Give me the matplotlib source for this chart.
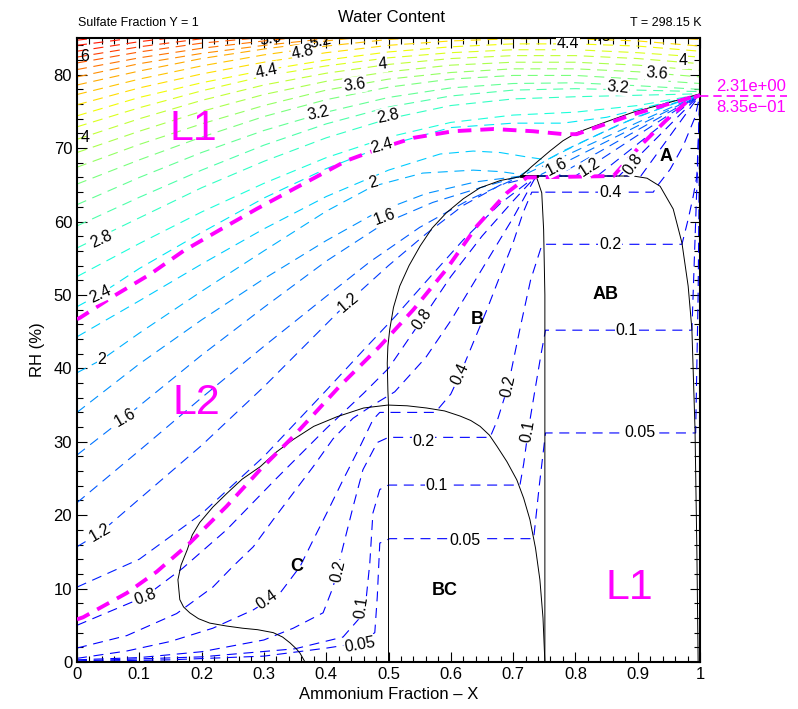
import numpy as np
import matplotlib
matplotlib.use("Agg")
import matplotlib.pyplot as plt
from matplotlib.ticker import MultipleLocator, FuncFormatter

plt.rcParams['font.family'] = ['Liberation Sans', 'DejaVu Sans']

# *------------- phase boundaries (X = ammonium fraction, RH %) -------------*
bndA_x = [0.713, 0.73, 0.759, 0.78, 0.802, 0.85, 0.893, 0.95, 1.0]
bndA_y = [66.2, 67.5, 69.6, 71.0, 72.1, 73.6, 74.9, 76.2, 77.4]

bndAB_x = [0.713, 0.893, 0.915, 0.936, 0.957, 0.971, 0.981, 0.987, 0.992, 0.995, 0.997]
bndAB_y = [66.2, 66.2, 65.9, 64.8, 61.7, 57.1, 51.2, 45.3, 31.7, 15.0, 0.0]

bndB_x = [0.711, 0.68, 0.647, 0.62, 0.593, 0.57, 0.551, 0.533, 0.518, 0.508, 0.502,
          0.499, 0.498, 0.499, 0.5, 0.5]
bndB_y = [66.1, 65.6, 64.6, 63.1, 61.2, 59.1, 56.7, 54.0, 51.2, 48.3, 45.3,
          43.0, 40.7, 37.0, 35.0, 0.0]

bndV_x = [0.737, 0.746, 0.749, 0.751, 0.751]
bndV_y = [66.2, 63.9, 58.9, 50.0, 0.0]

bndC_x = [0.366, 0.358, 0.352, 0.342, 0.33, 0.315, 0.29, 0.266, 0.24, 0.213, 0.195,
          0.181, 0.171, 0.165, 0.162, 0.167, 0.177, 0.185, 0.197, 0.218, 0.241,
          0.265, 0.294, 0.32, 0.347, 0.38, 0.417, 0.46, 0.499, 0.53, 0.561, 0.59,
          0.615, 0.632, 0.647, 0.662, 0.674, 0.69, 0.706, 0.717, 0.727, 0.736,
          0.743, 0.748, 0.751]
bndC_y = [0.0, 1.2, 1.8, 2.6, 3.4, 4.0, 4.4, 4.6, 4.9, 5.3, 5.9,
          6.7, 7.5, 8.5, 11.2, 13.2, 15.3, 17.3, 19.0, 21.1, 23.0,
          24.9, 26.6, 28.6, 30.3, 32.1, 33.4, 34.6, 35.0, 34.9, 34.6, 34.2,
          33.5, 32.9, 32.1, 30.9, 29.4, 27.3, 24.8, 22.3, 19.4, 15.5,
          11.2, 6.0, 0.0]

eut_x = [0.713, 0.738]
eut_y = [66.2, 66.2]

# liquid-liquid boundaries (magenta)
magU_x = [0.0, 0.005, 0.058, 0.117, 0.171, 0.23, 0.288, 0.347, 0.433, 0.481, 0.54,
          0.604, 0.668, 0.732, 0.781, 0.802, 0.893, 0.989, 1.0]
magU_y = [46.7, 46.9, 49.8, 52.8, 56.0, 58.9, 61.7, 64.4, 68.3, 69.8, 71.4,
          72.3, 72.6, 72.3, 71.9, 71.9, 74.6, 77.0, 77.2]
magL_x = [0.0, 0.01, 0.08, 0.128, 0.181, 0.24, 0.294, 0.347, 0.422, 0.486, 0.54,
          0.593, 0.642, 0.69, 0.722, 0.861, 0.904, 0.947, 0.984, 1.0]
magL_y = [5.8, 6.1, 9.4, 12.3, 16.2, 21.2, 26.2, 30.7, 37.6, 43.0, 48.0,
          53.5, 59.4, 63.9, 66.0, 66.2, 70.3, 73.9, 76.7, 77.2]

# *------------- water content contours, lower levels -------------*
line_005 = [(0, 0.08), (0.15, 0.3), (0.3, 0.8), (0.401, 1.9), (0.454, 2.6), (0.478, 4.0),
            (0.482, 8.9), (0.486, 16.2), (0.502, 16.8), (0.733, 16.8), (0.742, 24.0),
            (0.752, 31.2), (0.993, 31.2), (0.997, 50.0), (1.0, 77.3)]
line_01 = [(0, 0.15), (0.2, 0.7), (0.35, 1.8), (0.427, 3.4), (0.462, 6.8), (0.47, 13.5),
           (0.475, 20.3), (0.486, 23.5), (0.5, 24.1), (0.711, 24.1), (0.717, 27.0),
           (0.724, 31.4), (0.735, 37.0), (0.745, 42.0), (0.752, 45.2), (0.987, 45.2),
           (0.993, 60.0), (1.0, 77.3)]
line_02 = [(0, 0.3), (0.1, 0.6), (0.2, 1.4), (0.3, 3.0), (0.347, 4.6), (0.395, 6.7),
           (0.411, 10.2), (0.427, 15.7), (0.443, 21.1), (0.459, 26.2), (0.482, 29.9),
           (0.5, 30.6), (0.663, 30.6), (0.675, 33.0), (0.692, 37.6), (0.71, 45.0),
           (0.728, 52.0), (0.745, 56.5), (0.752, 56.9), (0.971, 56.9), (0.981, 60.3),
           (0.989, 63.4), (0.995, 66.2), (1.0, 77.3)]
line_04 = [(0, 0.5), (0.08, 1.5), (0.15, 2.8), (0.218, 4.6), (0.283, 7.1), (0.326, 9.4),
           (0.358, 13.0), (0.379, 16.6), (0.401, 20.3), (0.427, 24.8), (0.454, 29.3),
           (0.475, 33.0), (0.486, 34.0), (0.575, 34.0), (0.6, 36.5), (0.615, 39.2),
           (0.636, 43.5), (0.658, 48.0), (0.679, 52.6), (0.7, 57.1), (0.716, 61.2),
           (0.73, 64.0), (0.752, 64.0), (0.925, 64.0), (0.931, 64.8), (0.952, 67.1),
           (0.973, 70.3), (0.992, 74.2), (1.0, 77.3)]
line_06 = [(0, 1.9), (0.08, 3.6), (0.16, 6.6), (0.218, 10.2), (0.25, 13.0), (0.283, 15.7),
           (0.315, 19.4), (0.347, 23.0), (0.379, 26.6), (0.411, 30.4), (0.443, 33.2),
           (0.475, 35.0), (0.51, 36.8), (0.56, 41.5), (0.6, 46.5), (0.65, 53.5),
           (0.7, 60.5), (0.737, 66.2), (0.905, 66.2), (1.0, 77.3)]
line_08 = [(0, 5.0), (0.109, 8.9), (0.17, 12.8), (0.24, 18.0), (0.32, 25.0), (0.4, 31.8),
           (0.46, 36.6), (0.5, 40.0), (0.554, 46.7), (0.6, 52.5), (0.65, 58.0),
           (0.7, 62.8), (0.737, 66.2), (0.87, 66.2), (1.0, 77.3)]
line_10 = [(0, 10.2), (0.1, 14.0), (0.2, 20.2), (0.3, 28.0), (0.4, 37.0), (0.46, 42.5),
           (0.51, 47.0), (0.56, 51.8), (0.62, 57.5), (0.68, 62.5), (0.737, 66.2),
           (0.835, 66.2), (1.0, 77.3)]
line_12 = [(0, 15.7), (0.037, 17.6), (0.1, 22.2), (0.2, 29.5), (0.3, 37.5), (0.435, 49.0),
           (0.5, 54.0), (0.56, 58.3), (0.62, 62.2), (0.68, 65.0), (0.737, 66.2),
           (0.8, 66.2), (1.0, 77.3)]
line_14 = [(0, 21.7), (0.1, 28.8), (0.2, 36.0), (0.3, 43.0), (0.4, 49.8), (0.47, 54.5),
           (0.55, 59.2), (0.63, 63.0), (0.713, 66.2), (0.77, 66.2), (1.0, 77.3)]
line_16 = [(0, 28.2), (0.077, 33.3), (0.2, 41.8), (0.3, 48.3), (0.4, 54.6), (0.494, 59.8),
           (0.571, 62.6), (0.647, 64.6), (0.713, 66.2), (0.74, 66.2), (1.0, 77.3)]
line_18 = [(0, 34.0), (0.1, 40.6), (0.2, 46.6), (0.3, 52.2), (0.4, 57.4), (0.48, 61.2),
           (0.56, 63.8), (0.64, 65.4), (0.713, 66.2), (0.8, 69.6), (0.9, 73.5), (1.0, 77.3)]
line_20 = [(0, 39.4), (0.04, 41.2), (0.1, 44.8), (0.2, 50.5), (0.3, 56.0), (0.4, 61.4),
           (0.475, 64.8), (0.555, 66.6), (0.636, 67.0), (0.68, 66.8), (0.713, 66.4),
           (0.78, 69.6), (0.87, 73.2), (0.95, 75.9), (1.0, 77.3)]
line_22 = [(0, 44.3), (0.1, 49.2), (0.2, 54.2), (0.3, 59.0), (0.4, 63.4), (0.5, 67.0),
           (0.583, 69.2), (0.636, 69.6), (0.679, 69.4), (0.722, 68.8), (0.754, 68.4),
           (0.82, 71.2), (0.9, 74.3), (1.0, 77.3)]
line_24 = [(0, 48.4), (0.037, 50.1), (0.1, 53.6), (0.2, 58.5), (0.3, 63.2), (0.4, 67.2),
           (0.49, 70.2), (0.6, 72.8), (0.7, 73.4), (0.78, 73.4), (0.85, 74.2),
           (0.93, 75.9), (1.0, 77.3)]
low_levels = [0.05, 0.1, 0.2, 0.4, 0.6, 0.8, 1.0, 1.2, 1.4, 1.6, 1.8, 2.0, 2.2, 2.4]
low_lines = [line_005, line_01, line_02, line_04, line_06, line_08, line_10, line_12,
             line_14, line_16, line_18, line_20, line_22, line_24]

# *------------- water content contours, upper arcs -------------*
arc_x = [0.0, 0.1, 0.2, 0.3, 0.4, 0.5, 0.6, 0.7, 0.8, 0.9, 1.0]
arc_levels = [2.6, 2.8, 3.0, 3.2, 3.4, 3.6, 3.8, 4.0, 4.2, 4.4, 4.6, 4.8,
              5.0, 5.2, 5.4, 5.6, 5.8, 6.0, 6.2, 6.4]
arc_rows = [
    [52.5, 57.0, 61.3, 65.2, 68.7, 71.5, 73.5, 74.5, 74.9, 75.8, 77.3],
    [56.4, 60.5, 64.6, 68.2, 71.4, 74.0, 75.8, 76.7, 77.0, 77.2, 77.4],
    [59.4, 63.3, 67.0, 70.4, 73.3, 75.6, 77.1, 77.9, 78.1, 77.9, 77.7],
    [62.3, 66.0, 69.4, 72.4, 74.9, 76.9, 78.2, 78.8, 78.9, 78.5, 78.0],
    [65.1, 68.4, 71.5, 74.3, 76.6, 78.3, 79.4, 79.9, 79.9, 79.4, 78.8],
    [67.4, 70.5, 73.3, 75.8, 77.9, 79.4, 80.3, 80.8, 80.8, 80.4, 79.7],
    [69.4, 72.3, 75.0, 77.3, 79.1, 80.4, 81.3, 81.7, 81.7, 81.3, 80.6],
    [71.2, 74.0, 76.5, 78.6, 80.2, 81.4, 82.2, 82.6, 82.6, 82.2, 81.5],
    [72.9, 75.5, 77.8, 79.8, 81.2, 82.3, 83.0, 83.4, 83.4, 83.0, 82.4],
    [74.4, 76.9, 78.9, 80.6, 82.0, 83.1, 83.8, 84.2, 84.2, 83.9, 83.2],
    [75.9, 78.2, 80.1, 81.7, 83.0, 84.0, 84.6, 84.9, 84.9, 84.6, 83.9],
    [77.3, 79.4, 81.2, 82.7, 83.9, 84.8, 85.3, 85.5, 85.5, 85.3, 84.8],
    [78.6, 80.5, 82.2, 83.5, 84.6, 85.5, 86.0, 86.2, 86.2, 86.0, 85.5],
    [79.7, 81.5, 82.9, 84.0, 84.9, 85.6, 86.1, 86.4, 86.4, 86.2, 85.8],
    [80.7, 82.3, 83.6, 84.6, 85.5, 86.2, 86.7, 87.0, 87.0, 86.8, 86.4],
    [81.6, 83.1, 84.3, 85.1, 85.9, 86.6, 87.1, 87.4, 87.4, 87.2, 86.8],
    [82.4, 83.8, 84.9, 85.8, 86.5, 87.0, 87.4, 87.6, 87.6, 87.4, 87.0],
    [83.2, 84.5, 85.5, 86.3, 87.0, 87.5, 87.8, 88.0, 88.0, 87.8, 87.4],
    [84.0, 85.1, 86.0, 86.8, 87.4, 87.9, 88.2, 88.4, 88.4, 88.2, 87.8],
    [84.7, 85.7, 86.5, 87.2, 87.8, 88.3, 88.6, 88.8, 88.8, 88.6, 88.2],
]

# contour labels: x, y, text, rotation
lab_x = [0.040, 0.037, 0.040, 0.077, 0.037, 0.109, 0.013, 0.013,
         0.305, 0.31, 0.363, 0.39, 0.446, 0.387, 0.49, 0.5, 0.49, 0.475, 0.494, 0.435,
         0.788, 0.84, 0.973, 0.931, 0.868,
         0.77, 0.823, 0.892,
         0.554, 0.615, 0.692, 0.724,
         0.856, 0.856, 0.882, 0.904,
         0.556, 0.577, 0.623,
         0.305, 0.419, 0.457, 0.454]
lab_y = [57.6, 50.1, 41.2, 33.3, 17.6, 8.9, 71.5, 82.5,
         80.5, 84.9, 83.1, 84.6, 78.6, 74.8, 81.4, 74.4, 70.3, 65.3, 60.6, 49.0,
         84.2, 85.2, 81.9, 80.1, 78.3,
         67.5, 67.4, 67.8,
         46.7, 39.2, 37.6, 31.4,
         63.9, 56.9, 45.1, 31.2,
         30.1, 24.1, 16.6,
         8.5, 12.3, 7.4, 2.3]
lab_txt = ['2.8', '2.4', '2', '1.6', '1.2', '0.8', '4', '6',
           '4.4', '5.6', '4.8', '5.2', '3.6', '3.2', '4', '2.8', '2.4', '2', '1.6', '1.2',
           '4.4', '4.8', '4', '3.6', '3.2',
           '1.6', '1.2', '0.8',
           '0.8', '0.4', '0.2', '0.1',
           '0.4', '0.2', '0.1', '0.05',
           '0.2', '0.1', '0.05',
           '0.4', '0.2', '0.1', '0.05']
lab_rot = [25, 25, 0, 30, 30, 20, 0, 0,
           12, 10, 12, 12, 8, 12, 5, 12, 15, 15, 20, 40,
           0, 0, 0, -5, -5,
           27, 33, 55,
           55, 65, 78, 80,
           0, 0, 0, 0,
           0, 0, 0,
           35, 78, 82, 10]

def wc_color(level):
    t = 0.125 + (level - 0.8) * 0.144
    return plt.cm.jet(min(max(t, 0.125), 0.89))

fig = plt.figure(figsize=(7.98, 7.09), dpi=100)
ax = fig.add_axes([77 / 798, 1 - 662 / 709, 623 / 798, 624 / 709])

dash = (0, (9, 6))
for lev, pts in zip(low_levels, low_lines):
    xs, ys = zip(*pts)
    ax.plot(xs, ys, ls=dash, lw=0.8, color=wc_color(lev), zorder=2)
for lev, row in zip(arc_levels, arc_rows):
    ax.plot(arc_x, row, ls=dash, lw=0.8, color=wc_color(lev), zorder=2)

# black solid boundaries
for bx, by in [(bndA_x, bndA_y), (bndAB_x, bndAB_y), (bndB_x, bndB_y),
               (bndV_x, bndV_y), (bndC_x, bndC_y)]:
    ax.plot(bx, by, color='black', lw=0.7, zorder=3)
ax.plot(eut_x, eut_y, color='black', lw=2.0, zorder=3)

# magenta
ax.plot(magU_x, magU_y, color='#ff00ff', lw=2.8, ls=(0, (3.5, 2.3)), zorder=4)
ax.plot(magL_x, magL_y, color='#ff00ff', lw=2.8, ls=(0, (3.5, 2.3)), zorder=4)
ax.plot([1.0, 1.14], [77.1, 77.1], color='#ff00ff', lw=1.2, ls=(0, (5, 3)),
        clip_on=False, zorder=4)
ax.text(1.082, 78.4, '2.31e+00', color='#ff00ff', fontsize=12, ha='center',
        va='center', clip_on=False)
ax.text(1.082, 75.6, '8.35e\u221201', color='#ff00ff', fontsize=12, ha='center',
        va='center', clip_on=False)

for x, y, s, r in zip(lab_x, lab_y, lab_txt, lab_rot):
    edge = y > 84.3 or x < 0.02
    ax.text(x, y, s, rotation=r, ha='center', va='center', fontsize=11.5, zorder=6,
            rotation_mode='anchor', clip_on=True,
            bbox=None if edge else dict(boxstyle='square,pad=0.05', fc='white', ec='none'))

# region names
ax.text(0.186, 72.6, 'L1', color='#ff00ff', fontsize=31, ha='center', va='center')
ax.text(0.192, 35.3, 'L2', color='#ff00ff', fontsize=31, ha='center', va='center')
ax.text(0.886, 10.1, 'L1', color='#ff00ff', fontsize=31, ha='center', va='center')
for x, y, s in [(0.945, 68.8, 'A'), (0.642, 46.7, 'B'), (0.848, 50.1, 'AB'),
                (0.591, 9.8, 'BC'), (0.353, 13.0, 'C')]:
    ax.text(x, y, s, fontsize=13, fontweight='bold', ha='center', va='center', zorder=6)

ax.set_xlim(0, 1)
ax.set_ylim(0, 85)
ax.xaxis.set_major_locator(MultipleLocator(0.1))
ax.xaxis.set_minor_locator(MultipleLocator(0.02))
ax.yaxis.set_major_locator(MultipleLocator(10))
ax.yaxis.set_minor_locator(MultipleLocator(2))
ax.xaxis.set_major_formatter(FuncFormatter(lambda v, p: '%g' % round(v, 2)))
ax.tick_params(which='both', direction='in', top=True, right=True, labelsize=12)
ax.tick_params(which='major', length=7, width=0.8)
ax.tick_params(which='minor', length=4, width=0.8)
for sp in ax.spines.values():
    sp.set_linewidth(1.5)

ax.set_xlabel('Ammonium Fraction \u2013 X', fontsize=12, labelpad=4)
ax.set_ylabel('RH (%)', fontsize=12, labelpad=6)

fig.text(391 / 798, 1 - 18 / 709, 'Water Content', ha='center', va='center', fontsize=12)
fig.text(78 / 798, 1 - 23 / 709, 'Sulfate Fraction Y = 1', ha='left', va='center', fontsize=9)
fig.text(702 / 798, 1 - 23 / 709, 'T = 298.15 K', ha='right', va='center', fontsize=9)

fig.savefig('out.png', dpi=100)
